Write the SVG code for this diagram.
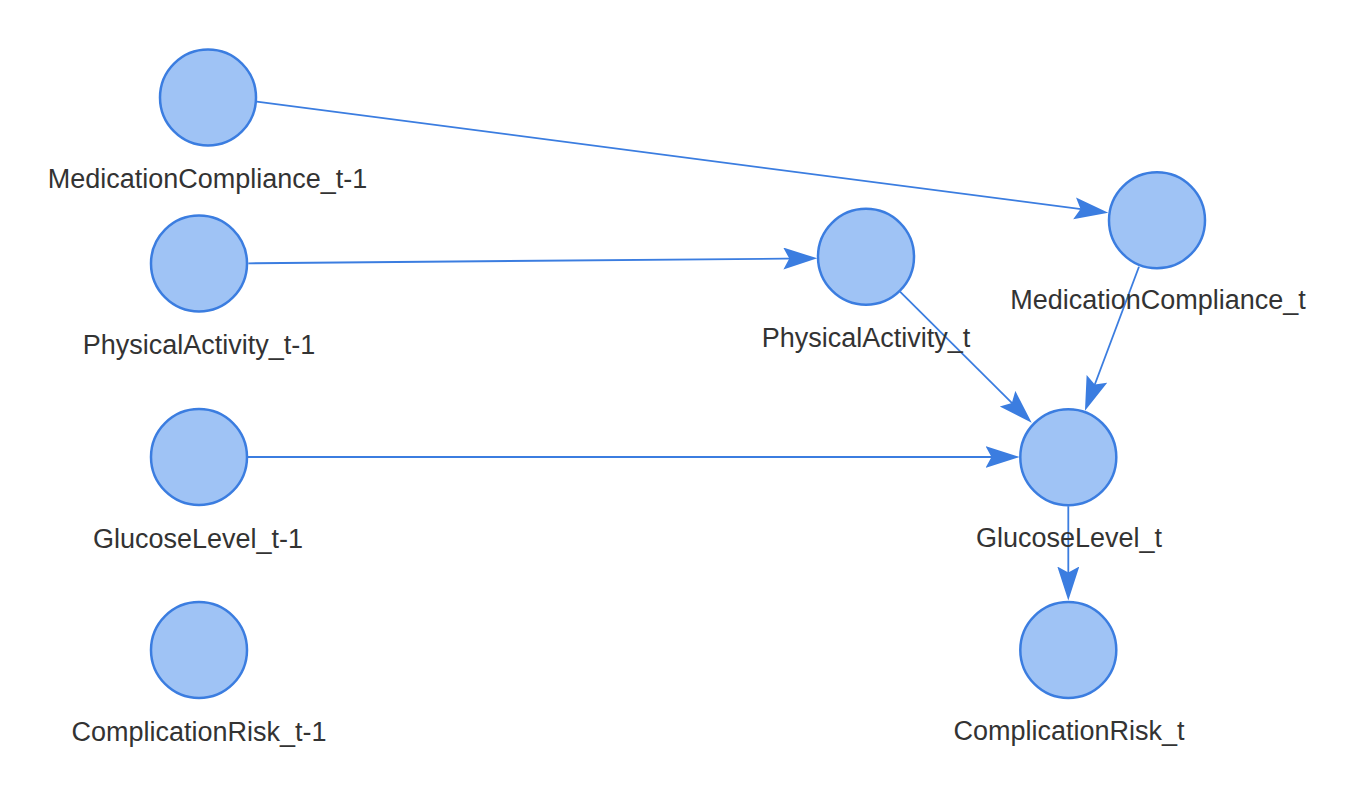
<svg xmlns="http://www.w3.org/2000/svg" width="1356" height="802" viewBox="0 0 1356 802">
<style>
.node{fill:#9fc3f5;stroke:#3b7de0;stroke-width:2.5}
.lbl{font-family:"Liberation Sans",Arial,sans-serif;font-size:27px;fill:#333333;text-anchor:middle}
.edge{fill:none;stroke:#3b7de0;stroke-width:1.8}
</style>
<defs>
<marker id="arr" markerUnits="userSpaceOnUse" markerWidth="36" markerHeight="24" refX="24" refY="11" orient="auto">
<path d="M0,0 L34,11 L0,22 L6,11 z" fill="#3b7de0"/>
</marker>
</defs>
<rect width="1356" height="802" fill="#ffffff"/>
<g id="edges">
<path class="edge" d="M256.7,101.7 L1098.4,211.4" marker-end="url(#arr)"/>
<path class="edge" d="M248.3,263.3 L807.3,258.4" marker-end="url(#arr)"/>
<path class="edge" d="M247.7,457 L1009.5,457" marker-end="url(#arr)"/>
<path class="edge" d="M900,291.7 L1024.6,415.6" marker-end="url(#arr)"/>
<path class="edge" d="M1139,266.7 L1088.5,401.3" marker-end="url(#arr)"/>
<path class="edge" d="M1068.3,506.2 L1068.3,590.5" marker-end="url(#arr)"/>
</g>
<g id="MedicationCompliance_t-1"><circle class="node" cx="208" cy="97.5" r="48"/><text class="lbl" x="207.5" y="187.5">MedicationCompliance_t-1</text></g>
<g id="PhysicalActivity_t-1"><circle class="node" cx="199" cy="263.5" r="48"/><text class="lbl" x="199" y="354">PhysicalActivity_t-1</text></g>
<g id="GlucoseLevel_t-1"><circle class="node" cx="199" cy="457" r="48"/><text class="lbl" x="198" y="547.5">GlucoseLevel_t-1</text></g>
<g id="ComplicationRisk_t-1"><circle class="node" cx="199" cy="650" r="48"/><text class="lbl" x="199" y="740.5">ComplicationRisk_t-1</text></g>
<g id="PhysicalActivity_t"><circle class="node" cx="866" cy="256.7" r="48"/><text class="lbl" x="866" y="346.5">PhysicalActivity_t</text></g>
<g id="MedicationCompliance_t"><circle class="node" cx="1157" cy="220.3" r="48"/><text class="lbl" x="1158" y="309">MedicationCompliance_t</text></g>
<g id="GlucoseLevel_t"><circle class="node" cx="1068.3" cy="457.2" r="48"/><text class="lbl" x="1069" y="546.5">GlucoseLevel_t</text></g>
<g id="ComplicationRisk_t"><circle class="node" cx="1068.3" cy="650" r="48"/><text class="lbl" x="1069" y="739.5">ComplicationRisk_t</text></g>
</svg>
